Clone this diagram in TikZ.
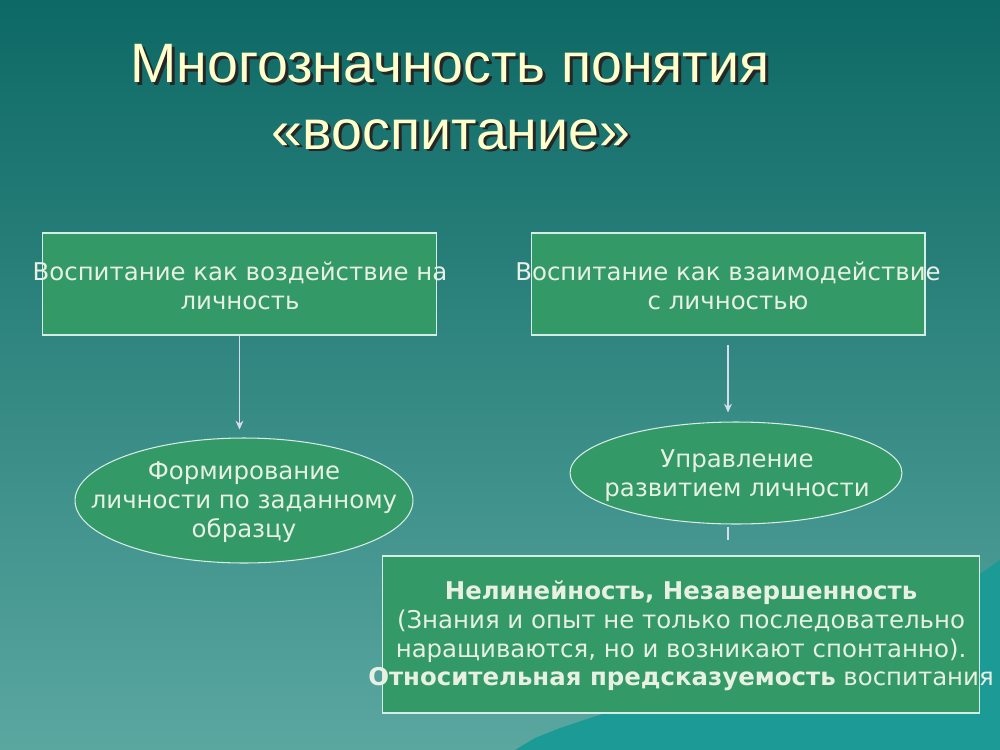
\documentclass[tikz,border=0pt]{standalone}
\usepackage{fontspec}
\setmainfont{DejaVu Sans}
\newfontfamily\titlefont{Liberation Sans}
\usepackage{tikz}
\usetikzlibrary{calc,positioning,arrows.meta,shapes}
\definecolor{bgtop}{HTML}{0D6965}
\definecolor{bgbot}{HTML}{5AA7A0}
\definecolor{boxgreen}{HTML}{339966}
\definecolor{boxline}{HTML}{D6ECE6}
\definecolor{textcol}{HTML}{E8F0E4}
\definecolor{titlecol}{HTML}{FFFFCC}
\definecolor{hillcol}{HTML}{1C9A96}
\definecolor{arrowcol}{HTML}{D4DCF2}
\newcommand\shadowed[1]{\makebox[0pt][l]{\hspace{1.7pt}\raisebox{-1.7pt}{\textcolor{black!85}{#1}}}#1}

\begin{document}
\begin{tikzpicture}[x=0.02cm, y=-0.02cm]
\tikzstyle{box}=[rectangle, draw=boxline, fill=boxgreen, line width=0.6pt]
\tikzstyle{oval}=[ellipse, draw=boxline, fill=boxgreen, line width=0.6pt, inner sep=0pt]
\tikzstyle{label}=[text=textcol, align=center, inner sep=0pt,
                   font=\fontsize{13.9}{16.4}\selectfont]
\tikzstyle{heading}=[font=\titlefont\fontsize{31.6}{37}\selectfont, anchor=base,
                     inner sep=0pt, text=titlecol]
\tikzstyle{arr}=[draw=arrowcol, line width=0.6pt, -{Stealth[length=5pt,width=4.5pt]}]

\useasboundingbox (0,0) rectangle (1000,750);
\shade[top color=bgtop, bottom color=bgbot] (0,0) rectangle (1000,750);
\fill[hillcol] (515,750) -- (535,738) -- (560,728) -- (590,718) -- (640,702)
  -- (700,690) -- (800,662) -- (900,622) -- (960,588) -- (1000,560) -- (1000,750) -- cycle;

% title
\node[heading] (T1) at (450,83) {\shadowed{Многозначность понятия}};
\node[heading] (T2) at (451,149) {\shadowed{«воспитание»}};

\node[box, minimum width=7.9cm, minimum height=2.04cm] (A) at (239.5,284) {};
\node[label] (a) at (240,286) {Воспитание как воздействие на\\личность};
\node[box, minimum width=7.88cm, minimum height=2.04cm] (B) at (728,284) {};
\node[label] (b) at (728,286) {Воспитание как взаимодействие\\с личностью};

\node[oval, minimum width=6.76cm, minimum height=2.5cm] (D) at (244,500.5) {};
\node[label] (d) at (244,502) {Формирование\\личности по заданному\\образцу};
\node[oval, minimum width=6.64cm, minimum height=2.04cm] (E) at (736,473) {};
\node[label] (e) at (737,476) {Управление\\развитием личности};

\node[box, minimum width=11.96cm, minimum height=3.14cm] (C) at (681,634.5) {};
\node[label] (c) at (681,636) {\textbf{Нелинейность, Незавершенность}\\
  (Знания и опыт не только последовательно\\
  наращиваются, но и возникают спонтанно).\\
  \textbf{Относительная предсказуемость} воспитания};

\draw[arr, shorten >=0.16cm] (A.south) -- (A.south |- D.north);
\draw[arr, shorten <=0.18cm, shorten >=0.18cm] (B.south) -- (B.south |- E.north);
\draw[draw=arrowcol, line width=0.6pt, shorten <=0.04cm, shorten >=0.3cm]
  (B.south |- E.south) -- (B.south |- C.north);
\end{tikzpicture}
\end{document}
